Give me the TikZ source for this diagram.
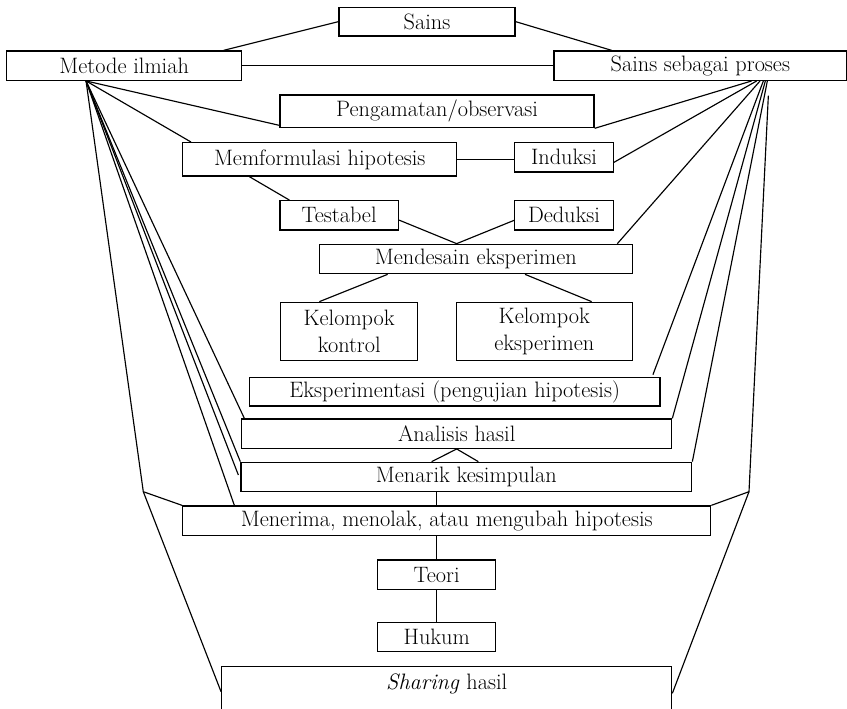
\documentclass[tikz,border=0pt]{standalone}
\usetikzlibrary{calc}
\begin{document}
\begin{tikzpicture}[x=1pt,y=-1pt,
  font=\fontsize{22.3}{27}\selectfont,
  box/.style={draw,line width=1.3pt,inner sep=0pt,align=center},
  conn/.style={line width=1.15pt}]
\useasboundingbox (0,0) rectangle (847,709);
% boxes
\node[box,minimum width=176pt,minimum height=28.7pt] (sains) at (427,21.65) {Sains};
\node[box,minimum width=235pt,minimum height=29.3pt] (metode) at (124.2,65.65) {Metode ilmiah};
\node[box,minimum width=292.7pt,minimum height=29.3pt] (ssp) at (700.35,65.65) {Sains sebagai proses};
\node[box,minimum width=314pt,minimum height=32.7pt] (peng) at (437,111.35) {Pengamatan/observasi};
\node[box,minimum width=274pt,minimum height=33.3pt] (memf) at (319.7,159.35) {Memformulasi hipotesis};
\node[box,minimum width=98.6pt,minimum height=29.3pt] (induksi) at (564,157.35) {Induksi};
\node[box,minimum width=118.3pt,minimum height=29.3pt] (testabel) at (339.15,215.35) {Testabel};
\node[box,minimum width=98.6pt,minimum height=29.3pt] (deduksi) at (564,215.35) {Deduksi};
\node[box,minimum width=313pt,minimum height=29.4pt] (mendesain) at (475.8,259) {Mendesain eksperimen};
\node[box,minimum width=137pt,minimum height=58pt] (kontrol) at (349.2,331.3) {Kelompok\\kontrol};
\node[box,minimum width=176pt,minimum height=58pt] (eksperimen) at (544.3,331.3) {Kelompok\\eksperimen};
\node[box,minimum width=410.7pt,minimum height=28.7pt] (eksperimentasi) at (454.65,391.65) {Eksperimentasi (pengujian hipotesis)};
\node[box,minimum width=430pt,minimum height=29.3pt] (analisis) at (456.7,433.65) {Analisis hasil};
\node[box,minimum width=450.7pt,minimum height=29.4pt] (menarik) at (466.35,477) {Menarik kesimpulan};
\node[box,minimum width=528pt,minimum height=29.3pt] (menerima) at (446.7,520.65) {Menerima, menolak, atau mengubah hipotesis};
\node[box,minimum width=118pt,minimum height=29.3pt] (teori) at (436.7,574.65) {Teori};
\node[box,minimum width=118pt,minimum height=29.4pt] (hukum) at (436.7,637) {Hukum};
\node[box,anchor=north,minimum width=450pt,minimum height=80pt,
  label={[anchor=north,inner sep=8pt]north:\textit{Sharing} hasil}] (sharing) at (446.7,666) {};
% top connectors
\draw[conn] ($(metode.north east)+(-18.7,0)$) -- (sains.west);
\draw[conn] (sains.east) -- ($(ssp.north west)+(58.3,0)$);
\draw[conn] (metode.east) -- (ssp.west);
% inner connectors
\draw[conn] ($(memf.south west)+(67.3,0)$) -- ($(testabel.north west)+(10,0)$);
\draw[conn] (memf.east) -- (memf.east -| induksi.west);
\coordinate (mt) at ($(mendesain.north west)+(138,0)$);
\draw[conn] ($(testabel.east)+(0,4.7)$) -- (mt) -- ($(deduksi.west)+(0,5)$);
\draw[conn] ($(mendesain.south west)+(69,0)$) -- ($(kontrol.north west)+(39.3,0)$);
\draw[conn] ($(mendesain.south west)+(206.4,0)$) -- ($(eksperimen.north west)+(136,0)$);
\draw[conn] ($(menarik.north west)+(191.3,0)$) -- (analisis.south) -- ($(menarik.north west)+(238,0)$);
\draw[conn] (teori.north |- menarik.south) -- (teori.north |- menerima.north);
\draw[conn] (menerima.south -| teori.north) -- (teori.north);
\draw[conn] (teori.south) -- (hukum.north);
% left fan
\coordinate (mo) at ($(metode.south west)+(80,0)$);
\draw[conn] (mo) -- ($(peng.south west)+(0,-3)$);
\draw[conn] (mo) -- ($(memf.north west)+(9,0)$);
\draw[conn] (mo) -- ($(analisis.north west)+(3.3,0)$);
\draw[conn] (mo) -- (menarik.north west);
\draw[conn] (mo) -- ($(menarik.west)+(-2,-2)$);
\draw[conn] (mo) -- ($(menerima.north west)+(52.3,0)$);
\coordinate (jl) at (143.3,491.7);
\draw[conn] (mo) -- (jl);
\draw[conn] (jl) -- (menerima.north west);
\draw[conn] (jl) -- ($(sharing.north west)+(0,25.7)$);
% right fan
\draw[conn] ($(ssp.south west)+(198.3,0)$) -- (peng.south east);
\draw[conn] ($(ssp.south west)+(203.3,0)$) -- ($(induksi.east)+(0,5)$);
\draw[conn] ($(ssp.south west)+(206.7,0)$) -- ($(mendesain.north east)+(-15.6,0)$);
\draw[conn] ($(ssp.south west)+(210,0)$) -- ($(eksperimentasi.north east)+(-7.7,-2)$);
\draw[conn] ($(ssp.south west)+(212,0)$) -- (analisis.north east);
\draw[conn] ($(ssp.south west)+(214,0)$) -- (menarik.north east);
\coordinate (rs) at ($(ssp.south west)+(215,14.7)$);
\coordinate (jr) at (749,491.7);
\draw[conn] (rs) -- (jr) -- (menerima.north east);
\draw[conn] (jr) -- ($(sharing.north east)+(0,27.3)$);
\end{tikzpicture}
\end{document}
